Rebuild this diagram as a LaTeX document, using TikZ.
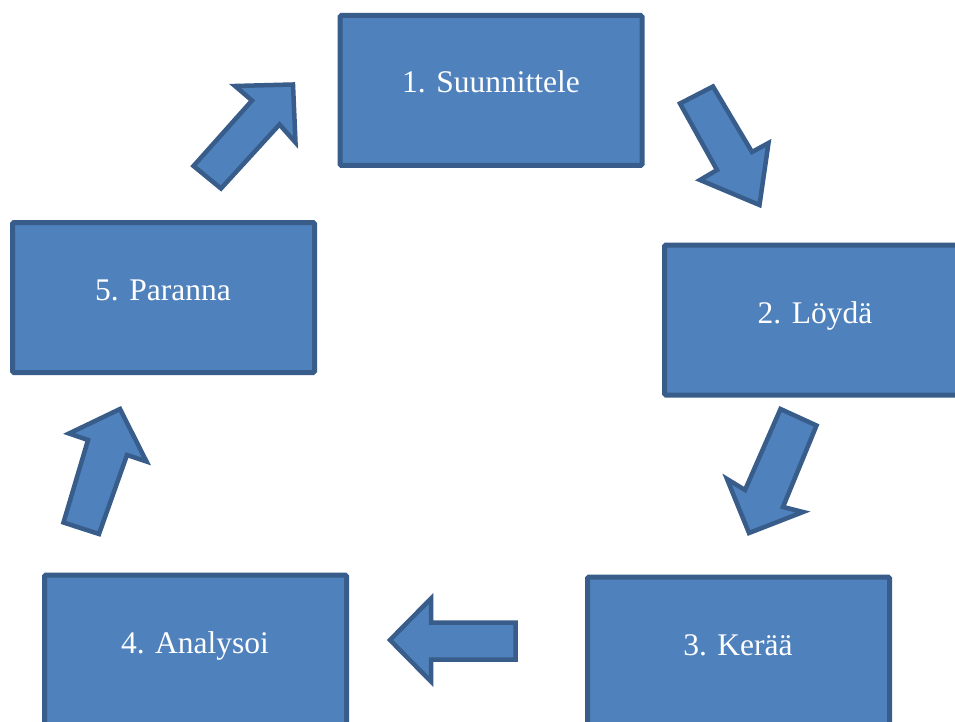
\documentclass[tikz,border=0pt]{standalone}
\usepackage{fontspec}
\setmainfont{Liberation Serif}
\definecolor{boxfill}{HTML}{4F81BD}
\definecolor{boxline}{HTML}{385D8A}
\tikzset{
  stepbox/.style={draw=boxline, fill=boxfill, line width=5pt, rounded corners=1.5pt,
    minimum width=302pt, minimum height=150pt, inner sep=0pt, outer sep=0pt},
  steplbl/.style={text=white, font=\fontsize{31.5}{36}\selectfont, anchor=base, inner sep=0pt},
  blockarrow/.style={draw=boxline, fill=boxfill, line width=4.5pt, line join=miter}
}
\begin{document}
\begin{tikzpicture}[x=1pt, y=-1pt]
\clip (0,0) rectangle (955,722);
\fill[white] (0,0) rectangle (955,722);
% boxes
\node[stepbox] (b1) at (491,90.5) {};
\node[stepbox] (b2) at (815.5,320) {};
\node[stepbox] (b3) at (738.5,652) {};
\node[stepbox] (b4) at (195.5,650) {};
\node[stepbox] (b5) at (163.5,297.5) {};
% labels
\node[steplbl] (t1) at (491,93) {1. Suunnittele};
\node[steplbl] (t2) at (815,323) {2. Löydä};
\node[steplbl] (t3) at (738,655) {3. Kerää};
\node[steplbl] (t4) at (195,653) {4. Analysoi};
\node[steplbl] (t5) at (163,300) {5. Paranna};
% block arrows
\draw[blockarrow] (193.5,166) -- (221,188.5) -- (279.5,124.5) -- (295.5,142.5) -- (293,84.5) -- (235,86) -- (252,100.5) -- cycle;
\draw[blockarrow] (680,103.5) -- (713,86.5) -- (752,152) -- (768.5,143) -- (759.5,205) -- (700,180) -- (717,170) -- cycle;
\draw[blockarrow] (780.5,409) -- (816.5,425.5) -- (783,507) -- (803,512) -- (749,533) -- (727,479) -- (745,490) -- cycle;
\draw[blockarrow] (515.5,622.5) -- (515.5,659.5) -- (431,659.5) -- (431,681.5) -- (390,640) -- (431,598.5) -- (431,622.5) -- cycle;
\draw[blockarrow] (63.5,522.5) -- (99,534) -- (127,455) -- (146.5,461.5) -- (120,409) -- (69,433.5) -- (88,440) -- cycle;
\end{tikzpicture}
\end{document}
